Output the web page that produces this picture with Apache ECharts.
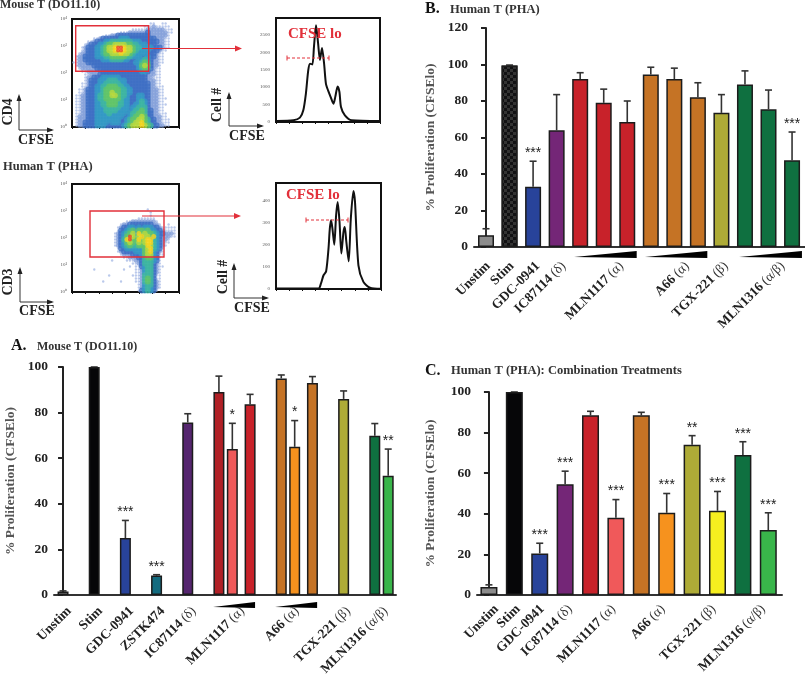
<!DOCTYPE html>
<html>
<head>
<meta charset="utf-8">
<style>
  html, body { margin: 0; padding: 0; background: #fff; }
  #main { width: 805px; height: 681px; }
</style>
<script src="https://cdn.jsdelivr.net/npm/echarts@6/dist/echarts.min.js"></script>
</head>
<body>
<div id="main"></div>
<script>
// panel A
const aSlots = [0, 1, 2, 3, 4, 5, 5.43, 6, 7, 7.43, 8, 9, 10, 10.43];
const aValues = [1.5, 100, 25, 8.5, 75.7, 89, 64, 83.7, 95, 65, 93, 86, 69.8, 52.3];
const aTops = [1.8, 100, 32.7, 8.9, 79.5, 96, 75.3, 88, 96.5, 76.5, 95.8, 89.5, 75.2, 64];
const aStars = ['', '', '***', '***', '', '', '*', '', '', '*', '', '', '', '**'];
const aColors = ['#8c8c8c', '#060608', '#28439a', '#136b7f', '#55266f', '#b02026', '#f0595a', '#c8222a', '#c57325', '#f6921e', '#c57325', '#aeab37', '#0f7040', '#39b54a'];
const aLabels = ['Unstim', 'Stim', 'GDC-0941', 'ZSTK474', 'IC87114 (δ)', 'MLN1117 (α)', 'A66 (α)', 'TGX-221 (β)', 'MLN1316 (α/β)'];
const aLabelSlots = [0.2, 1.2, 2.2, 3.2, 4.2, 5.75, 7.5, 9.15, 10.35];
const aWedges = [[4.81, 6.16], [6.8, 8.15]];

// panel B
const bValues = [6.5, 99.5, 33, 64, 92, 79, 68.5, 94.5, 92, 82, 73.5, 89, 75.5, 47.5];
const bTops = [10, 99.7, 47, 83.5, 95.5, 86.5, 80, 98.5, 98, 90, 83.5, 96.5, 86, 63];
const bStars = ['', '', '***', '', '', '', '', '', '', '', '', '', '', '***'];
const bColors = ['#8c8c8c', '#111113', '#28439a', '#742677', '#c8222a', '#c8222a', '#c8222a', '#c57325', '#c57325', '#c57325', '#aeab37', '#0f7040', '#0f7040', '#0f7040'];
const bLabels = ['Unstim', 'Stim', 'GDC-0941', 'IC87114 (δ)', 'MLN1117 (α)', 'A66 (α)', 'TGX-221 (β)', 'MLN1316 (α/β)'];
const bLabelSlots = [0.1, 1.1, 2.2, 3.3, 5.75, 8.55, 10.2, 12.6];
const bWedges = [[3.74, 6.4], [6.75, 9.4], [10.75, 13.42]];

// panel C
const cValues = [4, 100, 20.5, 54.5, 88.5, 38, 88.5, 40.5, 74, 41.5, 69, 32];
const cTops = [5, 100, 25.5, 61, 90.5, 47, 90, 50, 78.5, 51, 75.5, 40.5];
const cStars = ['', '', '***', '***', '', '***', '', '***', '**', '***', '***', '***'];
const cColors = ['#8c8c8c', '#060608', '#28439a', '#742677', '#c8222a', '#f0595a', '#c57325', '#f6921e', '#aeab37', '#f6ee1f', '#0f7040', '#39b54a'];
const cLabels = ['Unstim', 'Stim', 'GDC-0941', 'IC87114 (δ)', 'MLN1117 (α)', 'A66 (α)', 'TGX-221 (β)', 'MLN1316 (α/β)'];
const cLabelSlots = [0.3, 1.15, 2.1, 3.2, 4.9, 6.85, 8.85, 10.8];

// histograms, x in decades
const hist1X = [0.03, 0.67, 0.92, 1.05, 1.15, 1.24, 1.31, 1.40, 1.46, 1.54, 1.62, 1.69, 1.77, 1.85, 1.92, 2.01, 2.10, 2.21, 2.28, 2.37, 2.44, 2.5, 2.65, 2.91, 4];
const hist1Y = [30, 50, 125, 335, 815, 1480, 1670, 1650, 2150, 2770, 2245, 1780, 2120, 1670, 1100, 890, 720, 525, 720, 1020, 860, 430, 190, 50, 30];
const hist2X = [0, 1.62, 1.71, 1.81, 1.91, 2.0, 2.05, 2.10, 2.15, 2.22, 2.29, 2.35, 2.42, 2.49, 2.57, 2.62, 2.68, 2.77, 2.85, 2.95, 3.01, 3.14, 3.33, 3.58, 4];
const hist2Y = [2, 2, 24, 62, 80, 182, 272, 310, 272, 200, 332, 392, 302, 160, 257, 280, 212, 125, 317, 442, 392, 107, 32, 6, 1];
const hist1Ticks = [0, 500, 1000, 1500, 2000, 2500];
const hist2Ticks = [0, 100, 200, 300, 400];

// flow plot density, one digit per cell, top row first
const flow1Rows = [
  '000000000000000000000000000000000000',
  '000000000000000000000000001100110000',
  '000000000000000000000000111211111000',
  '000000000000000000001111122222211100',
  '000000000000000011122222232222221100',
  '000000000001122333333333332222221000',
  '000000011233333344433333333322211000',
  '000001123334455555554443333332211000',
  '000012333445667777665544433322211000',
  '000123334456778998776554444333211000',
  '000123334456778998776544443332110000',
  '001223334456677787765444433321100000',
  '012233334445566666554443343321100000',
  '012233333344455554433344543221100000',
  '112223333333333333333445653221100000',
  '012222233333333333333346763221000000',
  '001222223333333333333345653211000000',
  '000112222233333333333334432211000000',
  '000011222333333333333333322211000000',
  '000012233344444433333333322111000000',
  '000012333444555444333333322211000000',
  '000112333445555544333333332211000000',
  '000112334455666554433333332211100000',
  '001123334456666655443333332221100000',
  '001123334456676655443333332221100000',
  '011223334556677655433344332221100000',
  '011223334556666654433344332221110000',
  '011223334455666554433345432221100000',
  '011223334455666554433445432221110000',
  '011223334445555544434455532221100000',
  '011223334445555444434556533221100000',
  '011223334444544444345566533221110000',
  '012223334444444443345667633222110000',
  '012223334444444433456677653322111000',
  '012233334444344433456778653322111000',
  '012233334443333334567778765332211000'
];
const flow2Rows = [
  '000000000000000000000000000000000000',
  '000000000000000000000000000000000000',
  '000000000000000000000000000000000000',
  '000000000000000000000000000000000000',
  '000000000000000000000000000000000000',
  '000000000000000000000000000000000000',
  '000000000000000000000000000000000000',
  '000000000000000000000000000000000000',
  '000000000000000000000000010000000000',
  '000000000000000000000000001000000000',
  '000000000000000000000000001000000000',
  '000000000000000000000011111100000000',
  '000000000000000000112222222210000000',
  '000000000000000012233333333221001000',
  '000000000000000123344343444332111110',
  '000000000000000133456466564433211110',
  '000000000000001234567486766543322210',
  '000000000000001234697578675843222110',
  '000000000000001235896686788543221000',
  '000000000000001234676576788543211000',
  '000000000000001234565566687543210000',
  '000000000000000133444444678543100000',
  '000000000000000123333444678432100000',
  '000000000000000012223334677431100000',
  '000000000000000001122233566431000000',
  '000000000000010000111223555431000000',
  '000000000000000000001123555321000000',
  '000000000000000000010113455321100000',
  '000000010000000001000112455321000000',
  '000000000000000000000112455321000000',
  '000000000000100000001112555311000000',
  '000000000000000000000112565311000000',
  '000000000010000010000112565321000000',
  '000000000000000000000012455321000000',
  '000000000000000000000012454321000000',
  '000000000000000000000013454310000000'
];
const densityColors = ['#ffffff', '#a9bce6', '#7f9cd8', '#3f6fc4', '#3399c4', '#3db5a0', '#62c468', '#b8d83c', '#f6d31c', '#ee4420'];
const densityRadius = [0, 1.2, 2.2, 2.9, 2.9, 2.9, 2.9, 2.7, 2.5, 2];
const decadeLabels = ['10⁰', '10¹', '10²', '10³', '10⁴'];

const serif = '"Liberation Serif", serif';
let grids = [], xAxes = [], yAxes = [], series = [];

function boldGreek(name) {
  let i = name.indexOf(' (');
  if (i < 0) return '{b|' + name + '}';
  return '{b|' + name.slice(0, i) + '} {g|' + name.slice(i + 1) + '}';
}

function addBarPanel(opt) {
  let idx = grids.length;
  grids.push({ left: opt.left, top: opt.top, width: opt.width, height: opt.height });
  xAxes.push({
    type: 'value', gridIndex: idx, min: opt.xMin, max: opt.xMax,
    splitLine: { show: false },
    axisLine: { onZero: false, lineStyle: { color: '#333', width: 2 } },
    axisTick: { show: false },
    axisLabel: {
      customValues: opt.labelSlots, rotate: 45, margin: opt.margin,
      formatter: function (v) { return boldGreek(opt.labels[opt.labelSlots.indexOf(v)]); },
      rich: {
        b: { fontFamily: serif, fontWeight: 'bold', fontSize: 13.5, color: '#222' },
        g: { fontFamily: serif, fontSize: 13.5, color: '#333' }
      }
    }
  });
  yAxes.push({
    type: 'value', gridIndex: idx, min: 0, max: opt.yMax, interval: 20,
    name: '% Proliferation (CFSElo)', nameLocation: 'middle', nameGap: opt.nameGap,
    nameTextStyle: { fontFamily: serif, fontWeight: 'bold', fontSize: 13.5, color: '#555' },
    splitLine: { show: false },
    axisLine: { show: true, lineStyle: { color: '#222', width: 2 } },
    axisTick: { length: 5, lineStyle: { color: '#222', width: 2 } },
    axisLabel: { fontFamily: serif, fontWeight: 'bold', fontSize: 13.5, color: '#222', margin: 6 }
  });
  series.push({
    type: 'bar', xAxisIndex: idx, yAxisIndex: idx, barWidth: opt.barWidth, clip: false, z: 3,
    data: opt.values.map(function (v, i) {
      let style = { color: opt.colors[i], borderColor: '#1c1c1c', borderWidth: 1.5 };
      if (opt.checker === i) {
        style.decal = { symbol: 'rect', color: '#333', symbolSize: 1, dashArrayX: [[3, 3], [0, 3, 3, 0]], dashArrayY: [3, 0] };
      }
      return { value: [opt.slots[i], v], itemStyle: style };
    })
  });
  // error bars, upper arm only, with the stars above them
  series.push({
    type: 'custom', xAxisIndex: idx, yAxisIndex: idx, clip: false, z: 2, silent: true,
    data: opt.values.map(function (v, i) { return [opt.slots[i], v, opt.tops[i], i]; }),
    renderItem: function (params, api) {
      let low = api.coord([api.value(0), api.value(1)]);
      let top = api.coord([api.value(0), api.value(2)]);
      let cap = opt.capWidth / 2;
      let stars = opt.stars[api.value(3)];
      let kids = [
        { type: 'line', shape: { x1: low[0], y1: low[1], x2: top[0], y2: top[1] }, style: { stroke: '#333', lineWidth: 1.6 } },
        { type: 'line', shape: { x1: top[0] - cap, y1: top[1], x2: top[0] + cap, y2: top[1] }, style: { stroke: '#333', lineWidth: 1.6 } }
      ];
      if (stars) {
        kids.push({
          type: 'text', x: top[0], y: top[1] - 8,
          style: { text: stars, fontFamily: 'Liberation Sans', fontSize: 14, fill: '#222', textAlign: 'center', textVerticalAlign: 'middle' }
        });
      }
      return { type: 'group', children: kids };
    }
  });
  if (opt.wedges) {
    series.push({
      type: 'custom', xAxisIndex: idx, yAxisIndex: idx, clip: false, silent: true,
      data: opt.wedges,
      renderItem: function (params, api) {
        let a = api.coord([api.value(0), 0]);
        let b = api.coord([api.value(1), 0]);
        return {
          type: 'polygon',
          shape: { points: [[a[0], a[1] + opt.wedgeTip], [b[0], b[1] + opt.wedgeTop], [b[0], b[1] + opt.wedgeTip + 1]] },
          style: { fill: '#000' }
        };
      }
    });
  }
}

function addFlow(left, top, rows) {
  let idx = grids.length;
  grids.push({ left: left, top: top, width: 107, height: 108, show: true, borderColor: '#111', borderWidth: 2, backgroundColor: '#fff' });
  xAxes.push({
    type: 'value', gridIndex: idx, min: 0, max: 4, interval: 0.5,
    splitLine: { show: false },
    axisLine: { onZero: false, lineStyle: { color: '#111', width: 2 } },
    axisTick: { length: 2, lineStyle: { color: '#111' } },
    axisLabel: { show: false }
  });
  yAxes.push({
    type: 'value', gridIndex: idx, min: 0, max: 4, interval: 1,
    splitLine: { show: false },
    axisLine: { lineStyle: { color: '#111', width: 2 } },
    axisTick: { show: false },
    axisLabel: { fontSize: 5, color: '#555', margin: 5, formatter: function (v) { return decadeLabels[v]; } }
  });
  let cells = [];
  rows.forEach(function (row, r) {
    for (let c = 0; c < row.length; c++) {
      let level = Number(row[c]);
      if (level > 0) cells.push([(c + 0.5) / 9, (35.5 - r) / 9, level]);
    }
  });
  // low density first so the hot spots sit on top
  cells.sort(function (a, b) { return a[2] - b[2]; });
  series.push({
    type: 'custom', xAxisIndex: idx, yAxisIndex: idx, silent: true, data: cells,
    renderItem: function (params, api) {
      let p = api.coord([api.value(0), api.value(1)]);
      let level = api.value(2);
      return {
        type: 'circle',
        shape: { cx: p[0], cy: p[1], r: densityRadius[level] },
        style: { fill: densityColors[level], opacity: 0.8 }
      };
    }
  });
}

function addHist(left, top, width, height, xs, ys, yMax, ticks) {
  let idx = grids.length;
  grids.push({ left: left, top: top, width: width, height: height, show: true, borderColor: '#111', borderWidth: 2 });
  xAxes.push({
    type: 'value', gridIndex: idx, min: 0, max: 4, interval: 0.5,
    splitLine: { show: false },
    axisLine: { onZero: false, lineStyle: { color: '#111', width: 2 } },
    axisTick: { length: 2, lineStyle: { color: '#111' } },
    axisLabel: { show: false }
  });
  yAxes.push({
    type: 'value', gridIndex: idx, min: 0, max: yMax,
    splitLine: { show: false },
    axisLine: { lineStyle: { color: '#111', width: 2 } },
    axisTick: { show: false },
    axisLabel: { customValues: ticks, fontSize: 5, color: '#555', margin: 6, formatter: function (v) { return String(v); } }
  });
  series.push({
    type: 'line', xAxisIndex: idx, yAxisIndex: idx, showSymbol: false, smooth: 0.25,
    lineStyle: { color: '#111', width: 2 },
    data: xs.map(function (x, i) { return [x, ys[i]]; })
  });
}

addFlow(72, 19, flow1Rows);
addFlow(72, 184, flow2Rows);
addHist(276, 18, 104, 104, hist1X, hist1Y, 2980, hist1Ticks);
addHist(276, 183, 105, 106, hist2X, hist2Y, 478, hist2Ticks);

addBarPanel({
  left: 54, top: 367, width: 342, height: 228, xMin: -0.29, xMax: 10.68, yMax: 100,
  slots: aSlots, values: aValues, tops: aTops, stars: aStars, colors: aColors,
  labels: aLabels, labelSlots: aLabelSlots, wedges: aWedges, wedgeTip: 12, wedgeTop: 7,
  barWidth: 11, capWidth: 7, nameGap: 36, margin: 14
});
addBarPanel({
  left: 474, top: 28, width: 331, height: 219, xMin: -0.51, xMax: 13.55, yMax: 120,
  slots: bValues.map(function (v, i) { return i; }), values: bValues, tops: bTops, stars: bStars, colors: bColors,
  labels: bLabels, labelSlots: bLabelSlots, wedges: bWedges, wedgeTip: 10, wedgeTop: 4,
  barWidth: 16, capWidth: 7, nameGap: 36, margin: 17, checker: 1
});
addBarPanel({
  left: 477, top: 392, width: 305, height: 203, xMin: -0.47, xMax: 11.54, yMax: 100,
  slots: cValues.map(function (v, i) { return i; }), values: cValues, tops: cTops, stars: cStars, colors: cColors,
  labels: cLabels, labelSlots: cLabelSlots,
  barWidth: 17, capWidth: 7, nameGap: 39, margin: 12
});

// text and annotation drawing
function text(str, x, y, size, color, align, rot) {
  return {
    type: 'text', x: x, y: y, rotation: rot || 0, z: 20,
    style: { text: str, fontFamily: serif, fontWeight: 'bold', fontSize: size, fill: color, textAlign: align || 'left', textVerticalAlign: 'middle' }
  };
}
function seg(x1, y1, x2, y2, color, w, dash) {
  return {
    type: 'line', z: 20,
    shape: { x1: x1, y1: y1, x2: x2, y2: y2 },
    style: { stroke: color, lineWidth: w, lineDash: dash || null }
  };
}
function arrowHead(x, y, dir, color, len, half) {
  // dir: 'r' or 'u'
  let pts = dir === 'r' ? [[x, y], [x - len, y - half], [x - len, y + half]] : [[x, y], [x - half, y + len], [x + half, y + len]];
  return { type: 'polygon', z: 20, shape: { points: pts }, style: { fill: color } };
}
function axisCross(ox, oy, upY, rightX) {
  return [
    seg(ox, oy, ox, upY, '#333', 1),
    seg(ox, oy, rightX, oy, '#333', 1),
    arrowHead(ox, upY - 2, 'u', '#222', 7, 2.5),
    arrowHead(rightX + 2, oy, 'r', '#222', 7, 2.5)
  ];
}
function gate(x, y, w, h) {
  return { type: 'rect', z: 20, shape: { x: x, y: y, width: w, height: h }, style: { fill: null, stroke: '#e2303a', lineWidth: 1.4 } };
}
const red = '#e2303a';
const up = Math.PI / 2;
let graphics = [
  text('Mouse T (DO11.10)', 0, 5, 12, '#333'),
  text('Human T (PHA)', 3, 167, 12.5, '#333'),
  text('A.', 11, 346, 16, '#111'),
  text('Mouse T (DO11.10)', 37, 347, 12, '#333'),
  text('B.', 425, 9, 16, '#111'),
  text('Human T (PHA)', 450, 10, 12.5, '#333'),
  text('C.', 425, 371, 16, '#111'),
  text('Human T (PHA): Combination Treatments', 451, 371, 12.5, '#333'),
  text('CD4', 8, 112, 14, '#222', 'center', up),
  text('CFSE', 36, 140, 14, '#222', 'center'),
  text('CD3', 8, 282, 14, '#222', 'center', up),
  text('CFSE', 37, 311, 14, '#222', 'center'),
  text('Cell #', 217, 105, 14, '#222', 'center', up),
  text('CFSE', 247, 136, 14, '#222', 'center'),
  text('Cell #', 223, 277, 14, '#222', 'center', up),
  text('CFSE', 252, 308, 14, '#222', 'center'),
  text('CFSE lo', 288, 34, 15, red),
  text('CFSE lo', 286, 195, 15, red),
  gate(75.7, 25.7, 73, 45.6),
  gate(90, 211, 74, 46),
  seg(142, 48.5, 236, 48.5, red, 1.2),
  arrowHead(242, 48.5, 'r', red, 7, 3),
  seg(142, 216, 236, 216, red, 1.2),
  arrowHead(241, 216, 'r', red, 7, 3),
  seg(287, 58, 329, 58, red, 1, [3, 2]),
  seg(287, 55.5, 287, 60.5, red, 1),
  seg(329, 55.5, 329, 60.5, red, 1),
  seg(306, 220, 348, 220, red, 1, [3, 2]),
  seg(306, 217.5, 306, 222.5, red, 1),
  seg(348, 217.5, 348, 222.5, red, 1)
].concat(axisCross(19, 130, 96, 52), axisCross(20, 302, 269, 52), axisCross(229, 126, 94, 262), axisCross(234, 298, 265, 267));

let chart = echarts.init(document.getElementById('main'));
chart.setOption({
  animation: false,
  backgroundColor: '#fff',
  textStyle: { fontFamily: serif },
  grid: grids,
  xAxis: xAxes,
  yAxis: yAxes,
  series: series,
  graphic: graphics
});
</script>
</body>
</html>
